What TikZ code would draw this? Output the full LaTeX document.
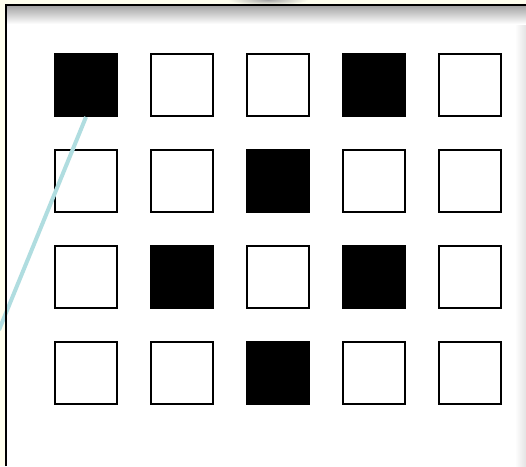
\documentclass[tikz,border=0pt]{standalone}
\usetikzlibrary{shadings}
\begin{document}
\begin{tikzpicture}[x=1pt,y=-1pt,
  cell/.style={draw=black,line width=2pt,minimum size=62pt,inner sep=0pt,outer sep=0pt,fill=white},
  blk/.style={cell,fill=black}]
\definecolor{cream}{RGB}{255,255,238}
\definecolor{pblue}{RGB}{176,221,224}
\useasboundingbox (0,0) rectangle (526,466);
\fill[cream] (0,0) rectangle (526,466);
% top-centre soft shadow
\shade[inner color=gray!70,outer color=cream] (268,0) ellipse (40 and 5);
% panel
\fill[white] (6,5) rectangle (526,466);
\shade[left color=white,right color=gray!22] (515,6) rectangle (526,466);
\shade[top color=gray!70,bottom color=white] (6,6) rectangle (526,24);
% squares
\foreach \r in {0,1,2,3}{
  \foreach \c in {0,1,2,3,4}{
    \node[cell] (s\r\c) at ({86+96*\c},{85+96*\r}) {};
  }
}
\foreach \r/\c in {0/0,0/3,1/2,2/1,2/3,3/2}{
  \node[blk] at (s\r\c) {};
}
\coordinate (tail) at (-1,330);
\draw[color=pblue,line width=4pt] (s00.south) ++(0,1) -- (tail);
% panel border
\draw[black,line width=2pt] (6,466) -- (6,5) -- (526,5);
\end{tikzpicture}
\end{document}
